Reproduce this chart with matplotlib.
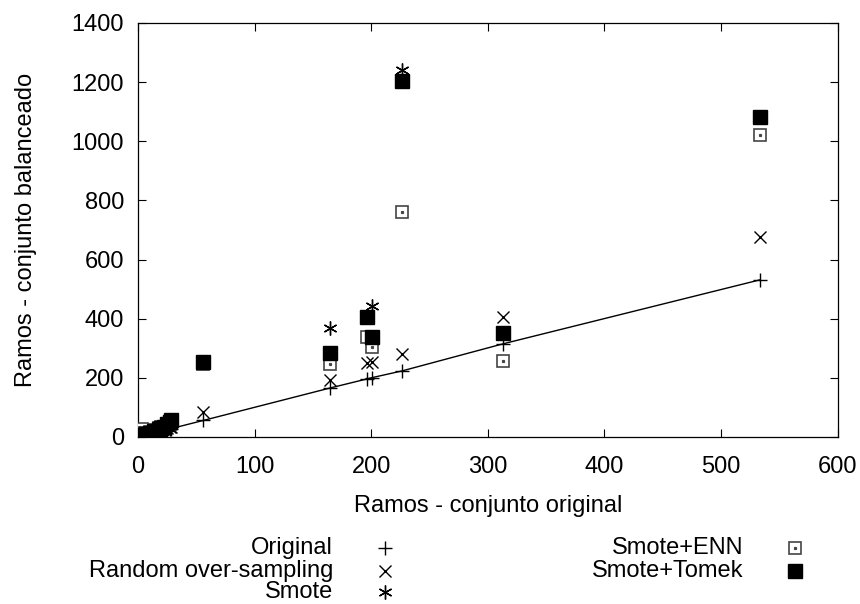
import matplotlib.pyplot as plt
from matplotlib.lines import Line2D
import numpy as np

plt.rcParams['font.family'] = ['Liberation Sans', 'DejaVu Sans']

# ramos no conjunto original (eixo x)
x_orig = [3, 5, 7, 10, 14, 18, 20, 22, 25, 27, 28, 56, 165, 196, 201, 226, 313, 533]

# ramos no conjunto balanceado, por metodo
y_original = [3, 5, 7, 10, 14, 18, 20, 22, 25, 27, 28, 56, 166, 196, 201, 223, 315, 531]
y_ros = [4, 6, 9, 12, 17, 22, 24, 27, 31, 33, 35, 86, 193, 250, 253, 280, 407, 677]
y_smote = [5, 8, 12, 15, 22, 28, 32, 35, 42, 48, 55, 252, 369, 406, 443, 1241, 353, 1083]
y_enn = [28, 12, 15, 18, 22, 30, 35, 30, 40, 45, 50, 247, 247, 338, 305, 762, 257, 1021]
y_tomek = [6, 8, 10, 14, 20, 28, 32, 35, 45, 52, 58, 252, 284, 406, 338, 1204, 353, 1083]

labels = ['Original', 'Random over-sampling', 'Smote', 'Smote+ENN', 'Smote+Tomek']

FS = 17

fig = plt.figure(figsize=(8.6, 6.04), dpi=100)
ax = fig.add_axes([0.1605, 0.2765, 0.8135, 0.6855])

order = np.argsort(x_orig)
ax.plot(np.array(x_orig)[order], np.array(y_original)[order], color='black', linewidth=1.0, zorder=1)

plus_kw = dict(marker='+', markersize=10, markeredgewidth=1.0, color='black', linestyle='none')
x_kw = dict(marker='x', markersize=8, markeredgewidth=1.0, color='black', linestyle='none')
star_kw = dict(marker=(6, 2, 0), markersize=10, markeredgewidth=1.0, color='black', linestyle='none')
enn_kw = dict(marker='s', markersize=9, markeredgewidth=1.2, markerfacecolor='white',
              markeredgecolor='#444444', linestyle='none')
dot_kw = dict(marker='s', markersize=1.3, color='#444444', linestyle='none')
tomek_kw = dict(marker='s', markersize=9.5, color='black', linestyle='none')

ax.plot(x_orig, y_original, **plus_kw, zorder=3)
ax.plot(x_orig, y_ros, **x_kw, zorder=3)
ax.plot(x_orig, y_smote, **star_kw, zorder=3)
ax.plot(x_orig, y_enn, **enn_kw, zorder=4)
ax.plot(x_orig, y_enn, **dot_kw, zorder=4)
ax.plot(x_orig, y_tomek, **tomek_kw, zorder=5)

ax.set_xlim(0, 600)
ax.set_ylim(0, 1400)
ax.set_xticks(range(0, 601, 100))
ax.set_yticks(range(0, 1401, 200))
ax.tick_params(direction='in', top=True, right=True, length=6, width=0.8, labelsize=FS)
ax.tick_params(axis='x', pad=14)
ax.tick_params(axis='y', pad=10)
for s in ax.spines.values():
    s.set_linewidth(0.9)
ax.set_xlabel('Ramos - conjunto original', fontsize=FS, labelpad=12)
ax.set_ylabel('Ramos - conjunto balanceado', fontsize=FS, labelpad=25)

# legenda estilo gnuplot abaixo do grafico
def key(text, tx, mx, y, kws):
    fig.text(tx / 860, 1 - y / 604, text, ha='right', va='center', fontsize=FS)
    for kw in kws:
        fig.add_artist(Line2D([mx / 860], [1 - y / 604], transform=fig.transFigure, **kw))

key(labels[0], 333, 385, 548, [plus_kw])
key(labels[1], 333, 385, 571, [x_kw])
key(labels[2], 333, 385, 592, [star_kw])
key(labels[3], 743, 795, 548, [dict(enn_kw, markersize=8), dot_kw])
key(labels[4], 743, 795, 571, [tomek_kw])

fig.savefig('out.png', dpi=100)
